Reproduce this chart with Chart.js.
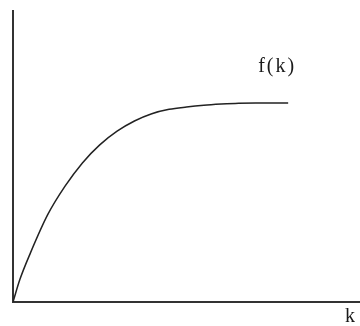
<!DOCTYPE html>
<html>
<head>
<meta charset="utf-8">
<script src="https://cdn.jsdelivr.net/npm/chart.js@4/dist/chart.umd.min.js"></script>
<style>
  html, body { margin: 0; padding: 0; background: #fff; }
  #wrap { width: 360px; height: 326px; }
</style>
</head>
<body>
<div id="wrap"><canvas id="c" width="360" height="326"></canvas></div>
<script>
// Production function f(k): capital per worker vs output per worker
const capital = [0, 0.2, 0.5, 1.0, 1.5, 2.0, 2.5, 3.0, 3.5, 4.0, 4.5, 5.0, 5.5, 6.0, 6.5, 7.0, 7.5, 7.93];
const output  = [0, 0.78, 1.68, 3.00, 3.98, 4.78, 5.40, 5.87, 6.22, 6.47, 6.62, 6.70, 6.76, 6.80, 6.83, 6.84, 6.84, 6.84];
const curveLabel = 'f(k)';
const axisLabel = 'k';

const points = capital.map((k, i) => ({ x: k, y: output[i] }));

// Draws the curve name near its end and the axis name under the x axis
const labelsPlugin = {
  id: 'labels',
  afterDraw(chart) {
    const ctx = chart.ctx;
    const xs = chart.scales.x, ys = chart.scales.y;
    const last = points[points.length - 1];
    ctx.save();
    ctx.fillStyle = '#1a1a1a';
    ctx.font = '20px "Liberation Serif", "Times New Roman", serif';
    ctx.textBaseline = 'alphabetic';
    ctx.textAlign = 'left';
    ctx.letterSpacing = '2px';
    ctx.fillText(curveLabel, xs.getPixelForValue(last.x) - 30, ys.getPixelForValue(last.y) - 31);
    ctx.letterSpacing = '0px';
    ctx.fillText(axisLabel, xs.getPixelForValue(9.57), chart.chartArea.bottom + 20);
    ctx.restore();
  }
};

new Chart(document.getElementById('c'), {
  type: 'line',
  data: {
    datasets: [{
      data: points,
      borderColor: '#222',
      borderWidth: 1.5,
      pointRadius: 0,
      fill: false,
      cubicInterpolationMode: 'monotone'
    }]
  },
  options: {
    responsive: false,
    animation: false,
    devicePixelRatio: 1,
    layout: { padding: { left: 13, top: 11, right: 0, bottom: 24 } },
    plugins: { legend: { display: false }, tooltip: { enabled: false } },
    scales: {
      x: {
        type: 'linear', min: 0, max: 10,
        grid: { display: false, drawTicks: false },
        border: { display: true, color: '#333', width: 2 },
        ticks: { display: false }
      },
      y: {
        type: 'linear', min: 0, max: 10,
        grid: { display: false, drawTicks: false },
        border: { display: true, color: '#333', width: 2 },
        ticks: { display: false }
      }
    }
  },
  plugins: [labelsPlugin]
});
</script>
</body>
</html>
